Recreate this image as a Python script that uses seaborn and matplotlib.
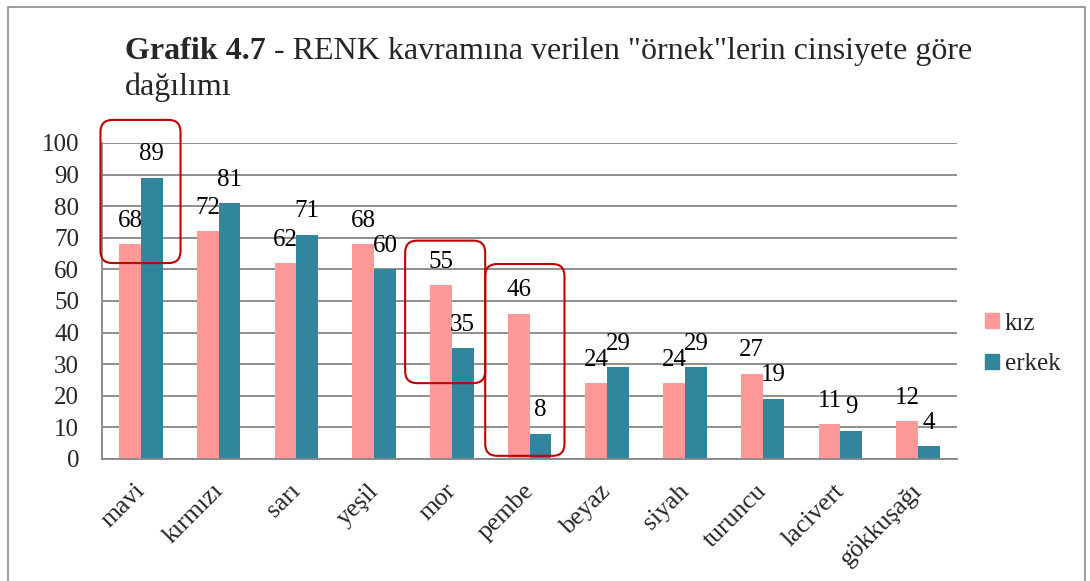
import matplotlib
matplotlib.use("Agg")
import matplotlib.pyplot as plt
import matplotlib.patches as patches
import matplotlib.transforms as mtransforms
import numpy as np
import pandas as pd
import seaborn as sns

colors_tr = ["mavi", "kırmızı", "sarı", "yeşil", "mor", "pembe",
             "beyaz", "siyah", "turuncu", "lacivert", "gökkuşağı"]
kiz = [68, 72, 62, 68, 55, 46, 24, 24, 27, 11, 12]
erkek = [89, 81, 71, 60, 35, 8, 29, 29, 19, 9, 4]
groups = ["kız", "erkek"]
palette = {"kız": "#FF9999", "erkek": "#31859C"}
y_ticks = list(range(0, 101, 10))

# highlighted groups: (x from, x to, y from, y to) in data units
highlights = [(-0.52, 0.51, 62, 107.3),
              (3.40, 4.43, 24, 69.1),
              (4.43, 5.45, 1, 61.7)]

df = pd.DataFrame({
    "renk": colors_tr * 2,
    "cinsiyet": ["kız"] * len(kiz) + ["erkek"] * len(erkek),
    "sayi": kiz + erkek,
})

sns.set_style("white")
plt.rcParams["font.family"] = ["Liberation Serif", "DejaVu Serif"]

fig = plt.figure(figsize=(10.9, 5.81), dpi=100)
ax = fig.add_axes([0.0936, 0.2100, 0.7844, 0.5439])

sns.barplot(data=df, x="renk", y="sayi", hue="cinsiyet", hue_order=groups,
            palette=palette, saturation=1, width=0.56, linewidth=0,
            errorbar=None, legend=False, ax=ax)

for cont in ax.containers:
    ax.bar_label(cont, padding=9, fontsize=18, color="black")

ax.set_ylim(0, 100)
ax.set_xlim(-0.5, len(colors_tr) - 0.5)
ax.set_yticks(y_ticks)
ax.set_yticklabels([str(v) for v in y_ticks], fontsize=18)
ax.yaxis.grid(True, color="#868686", linewidth=1.3)
ax.set_axisbelow(True)
ax.tick_params(axis="y", length=0, pad=16.5)
ax.tick_params(axis="x", length=0, pad=15)
ax.set_xticks(range(len(colors_tr)))
ax.set_xticklabels(colors_tr, fontsize=18.5, rotation=45, ha="right",
                   va="top", rotation_mode="anchor")
# nudge the rotated labels a little to the left, like the original
shift = mtransforms.ScaledTranslation(-5 / 72, 0, fig.dpi_scale_trans)
for lab in ax.get_xticklabels():
    lab.set_transform(lab.get_transform() + shift)
ax.set_xlabel("")
ax.set_ylabel("")
for side in ["top", "right"]:
    ax.spines[side].set_visible(False)
for side in ["left", "bottom"]:
    ax.spines[side].set_color("#868686")
    ax.spines[side].set_linewidth(1.3)

# red rounded boxes around the highlighted colours
aspect = (0.7844 * 1090 / 11) / (0.5439 * 581 / 100)
for x0, x1, y0, y1 in highlights:
    box = patches.FancyBboxPatch((x0, y0), x1 - x0, y1 - y0,
                                 boxstyle="round,pad=0,rounding_size=0.155",
                                 mutation_aspect=aspect, fill=False,
                                 edgecolor="#C00000", linewidth=1.5,
                                 clip_on=False, zorder=5)
    ax.add_patch(box)

# legend
handles = [patches.Patch(color=palette[g], label=g) for g in groups]
fig.legend(handles=handles, loc="upper left", bbox_to_anchor=(0.9037, 0.462),
           frameon=False, fontsize=18, handlelength=0.55, handleheight=0.55,
           handletextpad=0.25, labelspacing=0.75, borderpad=0, borderaxespad=0)

# title
t1 = fig.text(0.1147, 0.8985, "Grafik 4.7", fontsize=23, fontweight="bold",
              va="baseline")
fig.canvas.draw()
ax.annotate(' - RENK kavramına verilen "örnek"lerin cinsiyete göre',
            xy=(1, 0), xycoords=t1, va="bottom", ha="left", fontsize=23)
fig.text(0.1147, 0.836, "dağılımı", fontsize=23, va="baseline")

# outer frame
fig.patches.append(patches.Rectangle((0.0073, -0.01), 0.9877, 0.998,
                                     transform=fig.transFigure, fill=False,
                                     edgecolor="#8C8C8C", linewidth=1.2))

fig.savefig("out.png", dpi=100)
